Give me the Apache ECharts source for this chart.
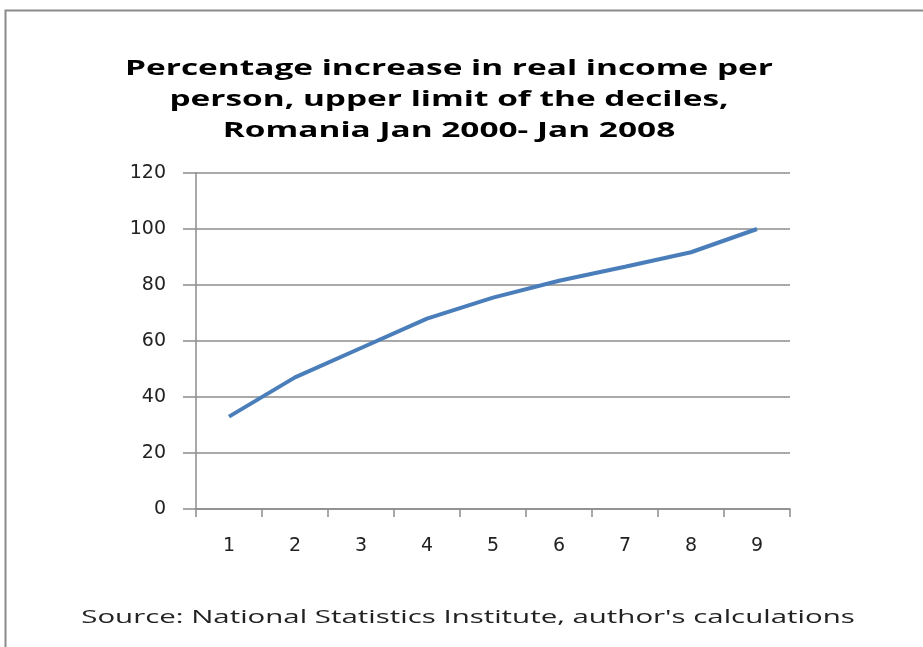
<!DOCTYPE html>
<html><head><meta charset="utf-8">
<script src="https://cdn.jsdelivr.net/npm/echarts@6/dist/echarts.min.js"></script>
<style>html,body{margin:0;padding:0;background:#fff}#c{width:923px;height:647px}</style>
</head><body><div id="c"></div>
<script>
const titleText = "Percentage increase in real income per\nperson, upper limit of the deciles,\nRomania Jan 2000- Jan 2008";
const sourceText = "Source: National Statistics Institute, author's calculations";
const categories = ["1","2","3","4","5","6","7","8","9"];
const values = [33, 47, 57.5, 68, 75.5, 81.5, 86.5, 91.7, 100];
const yTicks = [0, 20, 40, 60, 80, 100, 120];

const chart = echarts.init(document.getElementById('c'), null, {renderer:'canvas'});
chart.setOption({
  animation:false,
  backgroundColor:'#fff',
  graphic:[
    {type:'rect', shape:{x:5.5,y:10.5,width:1000,height:1000}, style:{fill:'none',stroke:'#8a8a8a',lineWidth:2}},
    {type:'text', x:449, y:54, scaleX:1.59, scaleY:1, style:{text:titleText, font:'bold 21px "Open Sans"', fill:'#000', align:'center', verticalAlign:'top', lineHeight:31}},
    {type:'text', x:468, y:609, scaleX:1.635, scaleY:1, style:{text:sourceText, font:'18px "Open Sans"', fill:'#222', align:'center', verticalAlign:'top'}}
  ],
  grid:{left:196, right:133, top:173, bottom:138},
  xAxis:{type:'category', data:categories, boundaryGap:true,
    axisLine:{lineStyle:{color:'#8c8c8c',width:1.5}},
    axisTick:{show:true, length:8, lineStyle:{color:'#8c8c8c',width:1.5}},
    axisLabel:{color:'#222', fontSize:19, fontFamily:'DejaVu Sans', margin:28},
    splitLine:{show:false}},
  yAxis:{type:'value', min:0, max:120, interval:20,
    axisLine:{show:true, lineStyle:{color:'#8c8c8c',width:1.5}},
    axisTick:{show:true, length:13, lineStyle:{color:'#8c8c8c',width:1.5}},
    axisLabel:{color:'#222', fontSize:19, fontFamily:'DejaVu Sans', margin:30,
      formatter:v=>yTicks.includes(v)?String(v):''},
    splitLine:{show:true, lineStyle:{color:'#8c8c8c',width:1.5}}},
  series:[{type:'line', data:values, symbol:'none',
    lineStyle:{color:'#4a7ebb', width:4}}]
});
</script></body></html>
